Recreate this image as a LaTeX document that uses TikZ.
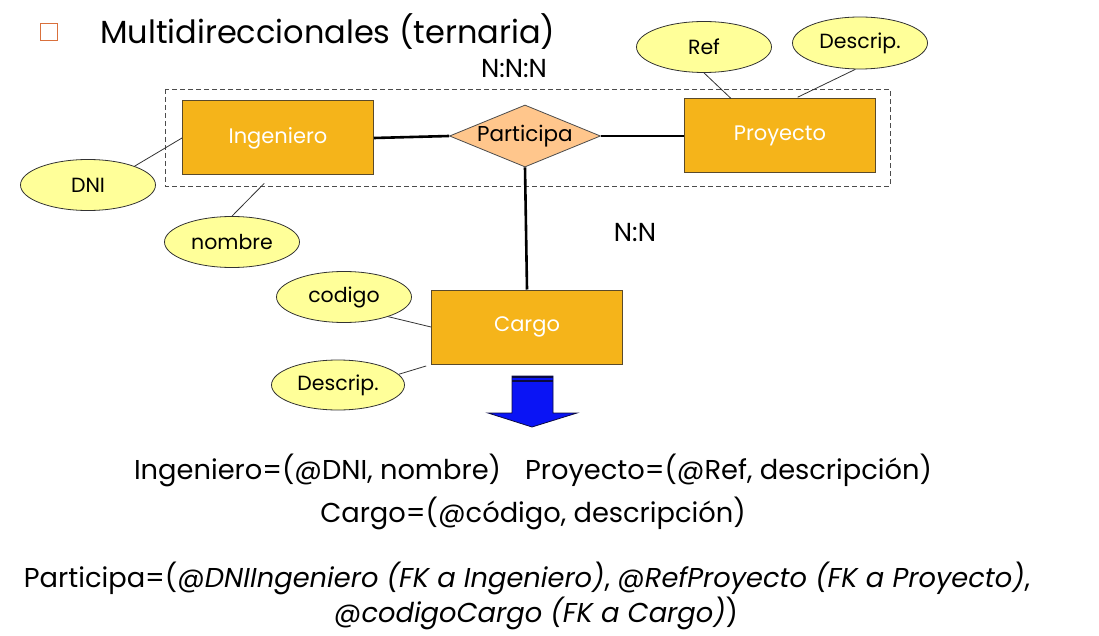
\documentclass[tikz,border=0pt]{standalone}
\usepackage{fontspec}
\setmainfont{Poppins}
\usetikzlibrary{positioning,shapes.geometric,calc}
\definecolor{eorange}{HTML}{F5B41A}
\definecolor{eyellow}{HTML}{FFFF99}
\definecolor{epeach}{HTML}{FFC68C}
\definecolor{ebrd}{HTML}{5A4A2A}
\definecolor{ebullet}{HTML}{D9703C}
\definecolor{eblue}{HTML}{0A14F5}
\definecolor{enavy}{HTML}{0A0A40}
\tikzset{
  entity/.style  ={draw=ebrd, line width=1pt, fill=eorange, minimum width=191pt,
                   minimum height=74pt, text=white, font=\fontsize{21}{25}\selectfont},
  attr/.style    ={ellipse, draw=black!80, line width=0.8pt, fill=eyellow, inner sep=0pt,
                   minimum width=135pt, minimum height=51pt, font=\fontsize{20.5}{24}\selectfont},
  relation/.style={diamond, draw=black!70, line width=0.8pt, fill=epeach, inner sep=0pt,
                   aspect=2.4, minimum width=151pt, minimum height=62pt,
                   font=\fontsize{21.5}{25}\selectfont},
  card/.style    ={font=\fontsize{26}{30}\selectfont, inner sep=0pt},
  txt/.style     ={font=\fontsize{27.3}{32}\selectfont, inner sep=0pt},
  link/.style    ={draw=black!80, line width=0.8pt},
  rlink/.style   ={draw=black, line width=2.6pt},
  agg/.style     ={draw=black!70, dash pattern=on 5pt off 3pt, line width=0.8pt},
}
\begin{document}
\begin{tikzpicture}[x=1pt, y=-1pt]
  \useasboundingbox (0,0) rectangle (1099,636);
  % title
  \node[draw=ebullet, line width=1.4pt, minimum size=17pt, inner sep=0pt] (bullet) at (49,32) {};
  \node[anchor=west, inner sep=0pt, font=\fontsize{32}{38}\selectfont] (title) at (100,32) {Multidireccionales (ternaria)};
  \node[card] (nnn) at (514,69) {N:N:N};
  % aggregation
  \draw[agg] (165,89) rectangle (890,186);
  % entities and relation
  \node[entity] (ing) at (278,138) {Ingeniero};
  \node[entity] (proy) at (780,136) {Proyecto};
  \node[entity] (cargo) at (527,327) {Cargo};
  \node[relation] (part) at (525,136) {Participa};
  \node[card] (nn) at (635,233) {N:N};
  % attributes
  \node[attr] (dni) at (88,185) {DNI};
  \node[attr] (nombre) at (232,242) {nombre};
  \node[attr] (ref) at (704,47) {Ref};
  \node[attr, minimum height=52pt] (pdesc) at (860,43) {Descrip.};
  \node[attr] (cod) at (344,297) {codigo};
  \node[attr, minimum width=133pt, minimum height=50pt] (cdesc) at (338,385) {Descrip.};

  % links
  \draw[rlink] (ing.east) -- (part.west);
  \draw[rlink] (part.east) -- (proy.west);
  \draw[rlink] (part.south) -- (cargo.north);
  \draw[link] (dni.22) -- (ing.west);
  \draw[link, shorten >=11pt] (nombre.north) -- ([xshift=90pt]ing.south west);
  \draw[link] (ref.south) -- ([xshift=47pt]proy.north west);
  \draw[link, shorten >=3pt] (pdesc.-100) -- ([xshift=111pt]proy.north west);
  \draw[link] (cod.-24) -- (cargo.west);
  \draw[link, shorten >=5pt] (cdesc.10) -- (cargo.south west);

  % transform arrow
  \draw[enavy, fill=eblue, line width=0.8pt] (512,376) -- (553,376) -- (553,413) -- (577,413)
    -- (532,427) -- (488,413) -- (512,413) -- cycle;
  \draw[enavy, line width=1.6pt] (512,377) -- (553,377);
  \draw[enavy, line width=1.4pt] (512,381) -- (553,381);

  % relational schema
  \node[txt] (tIng) at (533,470) {Ingeniero=(@DNI, nombre)\hspace{24pt}Proyecto=(@Ref, descripción)};
  \node[txt] (tCargo) at (533,513) {Cargo=(@código, descripción)};
  \node[txt] (tPart) at (527,578) {Participa=(\textit{@DNIIngeniero (FK a Ingeniero)}, \textit{@RefProyecto (FK a Proyecto)},};
  \node[txt] (tPart2) at (536,613) {\textit{@codigoCargo (FK a Cargo)})};
\end{tikzpicture}
\end{document}
